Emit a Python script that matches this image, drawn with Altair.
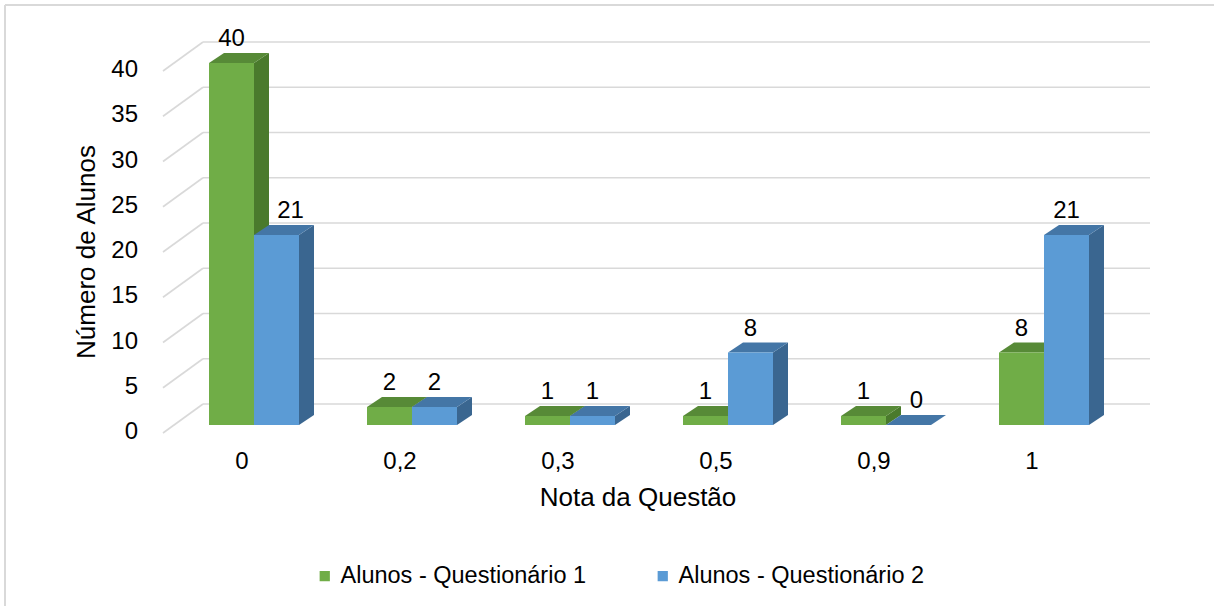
import altair as alt
import pandas as pd

# ---------------- data ----------------
categorias = ["0", "0,2", "0,3", "0,5", "0,9", "1"]
serie_1 = "Alunos - Questionário 1"
serie_2 = "Alunos - Questionário 2"
valores_q1 = [40, 2, 1, 1, 1, 8]
valores_q2 = [21, 2, 1, 8, 0, 21]
ticks_y = [0, 5, 10, 15, 20, 25, 30, 35, 40]

titulo_x = "Nota da Questão"
titulo_y = "Número de Alunos"

# ---------------- style ----------------
FONT = "Liberation Sans"
W, H = 948, 362
LEFT, TOP = 175, 63
STEP_PX, BAR_PX = 158, 45
DEPTH_X_PX, DEPTH_Y_PX = 15, 10
PX_PER_UNIT = H / 40.0

BW = BAR_PX / STEP_PX
DX = DEPTH_X_PX / STEP_PX
DY = DEPTH_Y_PX / PX_PER_UNIT

FRONT = {serie_1: "#70AD47", serie_2: "#5B9BD5"}
TOPC = {serie_1: "#578A37", serie_2: "#4476A6"}
SIDE = {serie_1: "#4A7A2C", serie_2: "#3A6690"}
GRID = "#D9D9D9"

xs = alt.Scale(domain=[-0.5, len(categorias) - 0.5], nice=False, zero=False)
ys = alt.Scale(domain=[0, 40], nice=False, zero=True)

# ---------------- derived tables ----------------
front_rows = []
side_rows = {serie_1: [], serie_2: []}
top_rows = {serie_1: [], serie_2: []}
for j, (serie, vals) in enumerate([(serie_1, valores_q1), (serie_2, valores_q2)]):
    for i, v in enumerate(vals):
        x0 = i - BW + j * BW
        x1 = x0 + BW
        pid = f"p{j}{i}"
        # label nudged right when the neighbouring (left) bar's side face is taller
        nudge = 0.0
        if j == 1 and valores_q1[i] > v:
            nudge = (14 if valores_q1[i] - v > 2 else 8) / STEP_PX
        front_rows.append({"serie": serie, "cat": categorias[i], "x0": x0, "x1": x1,
                           "xc": (x0 + x1) / 2 + nudge, "v": v})
        side_rows[serie] += [
            {"pid": pid, "px": x1, "py": v, "py2": 0},
            {"pid": pid, "px": x1 + DX, "py": v + DY, "py2": DY},
        ]
        top_rows[serie] += [
            {"pid": pid, "k": 0, "px": x0, "py": v},
            {"pid": pid, "k": 1, "px": x1, "py": v},
            {"pid": pid, "k": 2, "px": x1 + DX, "py": v + DY},
            {"pid": pid, "k": 3, "px": x0 + DX, "py": v + DY},
            {"pid": pid, "k": 4, "px": x0, "py": v},
        ]

df_front = pd.DataFrame(front_rows)
df_ticks = pd.DataFrame({"v": ticks_y})
df_cats = pd.DataFrame({"idx": list(range(len(categorias))), "cat": categorias})
df_one = pd.DataFrame({"k": [0]})

# ---------------- layers ----------------
grid = alt.Chart(df_ticks).mark_rule(color=GRID, strokeWidth=1.6, xOffset=28, x2Offset=27, yOffset=-21).encode(
    x=alt.datum(-0.5, scale=xs, axis=None),
    x2=alt.datum(len(categorias) - 0.5),
    y=alt.Y("v:Q", scale=ys, axis=None),
)
diag = alt.Chart(df_ticks).mark_rule(color=GRID, strokeWidth=1.6, xOffset=-12, x2Offset=28,
                                     yOffset=8, y2Offset=-21).encode(
    x=alt.datum(-0.5, scale=xs, axis=None),
    x2=alt.datum(-0.5),
    y=alt.Y("v:Q", scale=ys, axis=None),
    y2="v:Q",
)
tick_labels = alt.Chart(df_ticks).mark_text(font=FONT, fontSize=24, color="#000000", align="right",
                                            baseline="middle", xOffset=-37, yOffset=7).encode(
    x=alt.datum(-0.5, scale=xs, axis=None),
    y=alt.Y("v:Q", scale=ys, axis=None),
    text=alt.Text("v:Q", format="d"),
)
cat_labels = alt.Chart(df_cats).mark_text(font=FONT, fontSize=24, color="#000000", align="center",
                                          baseline="middle", xOffset=-12, yOffset=37).encode(
    x=alt.X("idx:Q", scale=xs, axis=None),
    y=alt.datum(0, scale=ys, axis=None),
    text="cat:N",
)


def side_layer(serie):
    return alt.Chart(pd.DataFrame(side_rows[serie])).mark_area(color=SIDE[serie]).encode(
        x=alt.X("px:Q", scale=xs, axis=None),
        y=alt.Y("py:Q", scale=ys, axis=None, stack=None),
        y2="py2:Q",
        detail="pid:N",
    )


def top_layer(serie):
    return alt.Chart(pd.DataFrame(top_rows[serie])).mark_line(
        filled=True, fill=TOPC[serie], strokeWidth=0, stroke=TOPC[serie]
    ).encode(
        x=alt.X("px:Q", scale=xs, axis=None),
        y=alt.Y("py:Q", scale=ys, axis=None),
        detail="pid:N",
        order="k:Q",
    )


sides = [side_layer(s) for s in (serie_1, serie_2)]
tops = [top_layer(s) for s in (serie_1, serie_2)]

fronts = alt.Chart(df_front).mark_rect().encode(
    x=alt.X("x0:Q", scale=xs, axis=None),
    x2="x1:Q",
    y=alt.Y("v:Q", scale=ys, axis=None),
    y2=alt.datum(0),
    color=alt.Color(
        "serie:N",
        scale=alt.Scale(domain=[serie_1, serie_2], range=[FRONT[serie_1], FRONT[serie_2]]),
        legend=alt.Legend(
            title=None, orient="none", legendX=138, legendY=501, direction="horizontal",
            symbolType="square", symbolSize=105, symbolStrokeWidth=0,
            labelFont=FONT, labelFontSize=23.5, labelColor="#000000",
            labelOffset=4, columnPadding=64, labelLimit=0,
        ),
    ),
)

value_labels = alt.Chart(df_front).mark_text(font=FONT, fontSize=24, color="#000000",
                                             baseline="alphabetic", dy=-17).encode(
    x=alt.X("xc:Q", scale=xs, axis=None),
    y=alt.Y("v:Q", scale=ys, axis=None),
    text=alt.Text("v:Q", format="d"),
)

x_title = alt.Chart(df_one).mark_text(font=FONT, fontSize=26, color="#000000", align="center",
                                      baseline="middle", xOffset=-11, yOffset=73).encode(
    x=alt.datum(2.5, scale=xs, axis=None),
    y=alt.datum(0, scale=ys, axis=None),
    text=alt.value(titulo_x),
)
y_title = alt.Chart(df_one).mark_text(font=FONT, fontSize=26, color="#000000", align="center",
                                      baseline="middle", angle=270, xOffset=-88, yOffset=8).encode(
    x=alt.datum(-0.5, scale=xs, axis=None),
    y=alt.datum(20, scale=ys, axis=None),
    text=alt.value(titulo_y),
)

border_left = alt.Chart(df_one).mark_rule(color=GRID, strokeWidth=2).encode(
    x=alt.value(5 - LEFT), y=alt.value(5 - TOP), y2=alt.value(606 - TOP)
)
border_top = alt.Chart(df_one).mark_rule(color=GRID, strokeWidth=2).encode(
    x=alt.value(5 - LEFT), x2=alt.value(1214 - LEFT), y=alt.value(5 - TOP)
)

chart = alt.layer(
    border_left, border_top, grid, diag, tick_labels, cat_labels,
    *sides, *tops, fronts, value_labels, x_title, y_title,
).properties(
    width=W, height=H,
    padding={"left": LEFT, "top": TOP, "right": 1214 - LEFT - W, "bottom": 606 - TOP - H},
    autosize=alt.AutoSizeParams(type="none"),
    background="white",
).configure_view(stroke=None)

chart.save("out.html", embed_options={"renderer": "svg", "actions": False})
